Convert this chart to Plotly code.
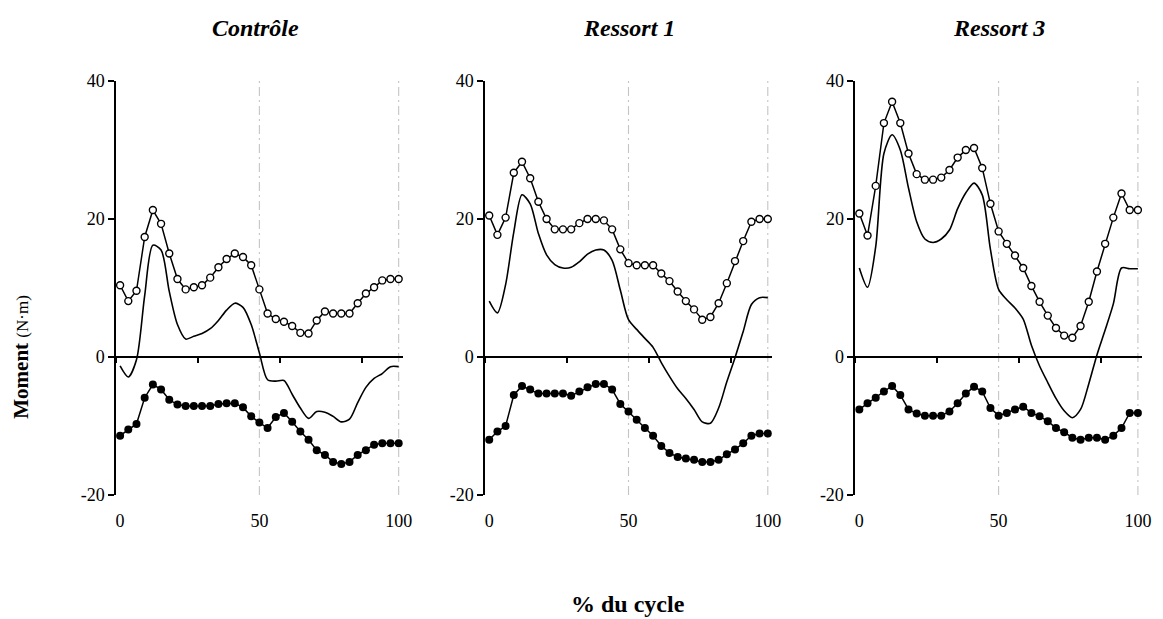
import numpy as np
import plotly.graph_objects as go

# ---- data (% of cycle, 35 samples) ----
pct = list(np.linspace(0, 100, 35))

panels = ["Contrôle", "Ressort 1", "Ressort 3"]
title_pos = [48.5, 50, 50]

ctrl_open = [10.4, 8.1, 9.6, 17.4, 21.3, 19.3, 15.0, 11.3, 9.8, 10.1, 10.4, 11.5, 13.0, 14.2, 15.0, 14.5, 13.3,
             9.8, 6.3, 5.5, 5.1, 4.5, 3.5, 3.4, 5.3, 6.6, 6.3, 6.3, 6.3, 7.8, 9.2, 10.1, 11.1, 11.3, 11.3]
ctrl_line = [-1.3, -2.9, -0.4, 8.9, 16.2, 15.5, 9.5, 4.7, 2.6, 3.0, 3.4, 4.1, 5.3, 6.8, 7.8, 7.2, 4.7,
             0.6, -3.3, -3.5, -3.4, -5.4, -7.4, -8.9, -7.9, -8.0, -8.6, -9.4, -9.0, -6.6, -4.4, -3.1, -2.4, -1.4, -1.4]
ctrl_fill = [-11.4, -10.5, -9.7, -5.9, -4.0, -4.7, -6.2, -6.9, -7.1, -7.1, -7.1, -7.1, -6.8, -6.7, -6.7, -7.3, -8.6,
             -9.5, -10.3, -8.7, -8.1, -9.4, -10.8, -12.0, -13.5, -14.2, -15.2, -15.5, -15.2, -14.2, -13.5, -12.7, -12.5, -12.5, -12.5]

r1_open = [20.5, 17.7, 20.2, 26.7, 28.3, 25.9, 22.5, 20.0, 18.5, 18.5, 18.5, 19.4, 20.0, 20.0, 19.8, 18.5, 15.6,
           13.6, 13.3, 13.3, 13.3, 12.1, 11.0, 9.5, 8.1, 6.9, 5.4, 5.8, 7.8, 10.7, 13.9, 16.8, 19.6, 20.0, 20.0]
r1_line = [8.1, 6.4, 10.5, 18.1, 23.5, 22.2, 17.9, 14.8, 13.4, 12.9, 13.0, 13.8, 14.9, 15.5, 15.5, 14.0, 9.7,
           5.4, 4.0, 2.7, 1.4, -0.8, -2.8, -4.6, -6.0, -7.6, -9.4, -9.6, -7.4, -3.6, -0.1, 3.7, 7.6, 8.6, 8.6]
r1_fill = [-12.0, -10.8, -10.0, -5.5, -4.2, -4.7, -5.3, -5.3, -5.3, -5.3, -5.6, -5.0, -4.4, -3.9, -3.9, -4.7, -6.8,
           -7.9, -9.1, -10.3, -11.4, -12.9, -13.9, -14.5, -14.7, -14.9, -15.2, -15.2, -14.9, -14.1, -13.4, -12.5, -11.4, -11.1, -11.1]

r3_open = [20.8, 17.6, 24.8, 33.9, 37.0, 33.9, 29.5, 26.5, 25.7, 25.7, 26.0, 27.1, 28.9, 30.0, 30.3, 27.4, 22.2,
           18.2, 16.4, 14.7, 12.9, 10.3, 8.0, 6.0, 4.2, 3.1, 2.8, 4.5, 8.0, 12.4, 16.4, 20.2, 23.7, 21.3, 21.3]
r3_line = [12.9, 10.1, 16.0, 29.5, 32.2, 30.0, 24.5, 19.6, 17.1, 16.6, 17.1, 18.4, 21.5, 23.8, 25.2, 23.5, 15.6,
           9.8, 8.3, 7.1, 5.5, 1.7, -1.3, -3.7, -6.0, -7.8, -8.8, -7.6, -3.9, 0.3, 3.9, 7.7, 12.9, 12.8, 12.8]
r3_fill = [-7.6, -6.7, -5.9, -5.0, -4.2, -5.5, -7.6, -8.2, -8.5, -8.5, -8.5, -7.9, -6.7, -5.3, -4.3, -5.0, -7.4,
           -8.5, -8.1, -7.6, -7.2, -8.1, -8.6, -9.3, -10.3, -10.9, -11.7, -12.0, -11.7, -11.7, -12.0, -11.4, -10.3, -8.1, -8.1]

series = [(ctrl_open, ctrl_line, ctrl_fill), (r1_open, r1_line, r1_fill), (r3_open, r3_line, r3_fill)]

y_ticks = [-20, 0, 20, 40]
y_ticktext = ["-20", "0", "20", "40"]
x_ticks = [0, 50, 100]
phase_lines = [50, 100]

FONT = "Liberation Serif"
step = 100 / 34
xr = [-step / 2, 100 + step / 2]
zero_ticks = [-step / 2, 9.5 * step, 19.5 * step, 29.5 * step]

# page body has an 8px margin -> figure drawn at (8, 8)
OFF = 8
W = 1034.0
H = 414.0
domains = [[0, 289 / W], [372 / W, 661 / W], [745 / W, 1.0]]
PLOT_LEFT = 116
PLOT_BOTTOM = 495.3

fig = go.Figure()

for k, (op, ln, fl) in enumerate(series):
    xa = "x" if k == 0 else f"x{k+1}"
    ya = "y" if k == 0 else f"y{k+1}"
    for v in phase_lines:
        fig.add_trace(go.Scatter(x=[v, v], y=[y_ticks[0], y_ticks[-1]], mode="lines", xaxis=xa, yaxis=ya,
                                 line=dict(color="#c4c4c4", width=1.1, dash="9px,4px,2px,4px"),
                                 hoverinfo="skip", showlegend=False, cliponaxis=False))
    fig.add_trace(go.Scatter(x=pct, y=ln, mode="lines", xaxis=xa, yaxis=ya,
                             line=dict(color="black", width=1.6, shape="spline", smoothing=0.8),
                             showlegend=False, cliponaxis=False))
    fig.add_trace(go.Scatter(x=pct, y=op, mode="lines+markers", xaxis=xa, yaxis=ya,
                             line=dict(color="black", width=1.5),
                             marker=dict(symbol="circle", size=7, color="white",
                                         line=dict(color="black", width=1.4)),
                             showlegend=False, cliponaxis=False))
    fig.add_trace(go.Scatter(x=pct, y=fl, mode="lines+markers", xaxis=xa, yaxis=ya,
                             line=dict(color="black", width=1.5),
                             marker=dict(symbol="circle", size=8, color="black"),
                             showlegend=False, cliponaxis=False))
    # dummy trace for zero-line axis
    fig.add_trace(go.Scatter(x=[None], y=[None], xaxis=f"x{k+4}", yaxis=ya, showlegend=False,
                             hoverinfo="skip"))

layout = dict(
    width=1155, height=611,
    margin=dict(l=PLOT_LEFT - OFF, r=13, t=73, b=124),
    paper_bgcolor="white", plot_bgcolor="white",
    font=dict(family=FONT, size=18, color="black"),
    showlegend=False,
)
for k in range(3):
    xn = "xaxis" if k == 0 else f"xaxis{k+1}"
    yn = "yaxis" if k == 0 else f"yaxis{k+1}"
    xa = "x" if k == 0 else f"x{k+1}"
    ya = "y" if k == 0 else f"y{k+1}"
    layout[xn] = dict(domain=domains[k], range=xr, anchor=ya, showline=False, showgrid=False,
                      zeroline=False, tickvals=x_ticks, ticks="", ticklabelstandoff=13,
                      tickfont=dict(family=FONT, size=18))
    layout[yn] = dict(domain=[0, 1], range=[-20, 40], anchor=xa, showline=True, linecolor="black",
                      linewidth=1.5, showgrid=False, zeroline=False, tickvals=y_ticks,
                      ticktext=y_ticktext, ticks="outside", ticklen=6, tickwidth=1.5,
                      tickcolor="black", tickfont=dict(family=FONT, size=18))
    layout[f"xaxis{k+4}"] = dict(overlaying=xa, anchor="free", position=1 / 3, range=xr,
                                 showline=True, linecolor="black", linewidth=1.5, showgrid=False,
                                 zeroline=False, tickvals=zero_ticks, ticks="outside", ticklen=5,
                                 tickwidth=1.5, tickcolor="black", showticklabels=False, side="bottom")

annotations = []
for k, name in enumerate(panels):
    xa = "x" if k == 0 else f"x{k+1}"
    annotations.append(dict(text=f"<b><i>{name}</i></b>", xref=xa, yref="paper", x=title_pos[k],
                            y=(PLOT_BOTTOM - 28) / H,
                            showarrow=False, xanchor="center", yanchor="middle",
                            font=dict(family=FONT, size=24)))
annotations.append(dict(text="<b>Moment</b> <span style='font-size:17px'>(N·m)</span>",
                        xref="paper", yref="y", x=(20 - PLOT_LEFT) / W, y=0, textangle=-90,
                        showarrow=False, xanchor="center", yanchor="middle",
                        font=dict(family=FONT, size=21)))
annotations.append(dict(text="<b>% du cycle</b>", xref="paper", yref="paper", x=(632 - PLOT_LEFT) / W,
                        y=(PLOT_BOTTOM - 604) / H, showarrow=False, xanchor="center", yanchor="middle",
                        font=dict(family=FONT, size=24)))
layout["annotations"] = annotations

fig.update_layout(**layout)
fig.write_html("out.html")
